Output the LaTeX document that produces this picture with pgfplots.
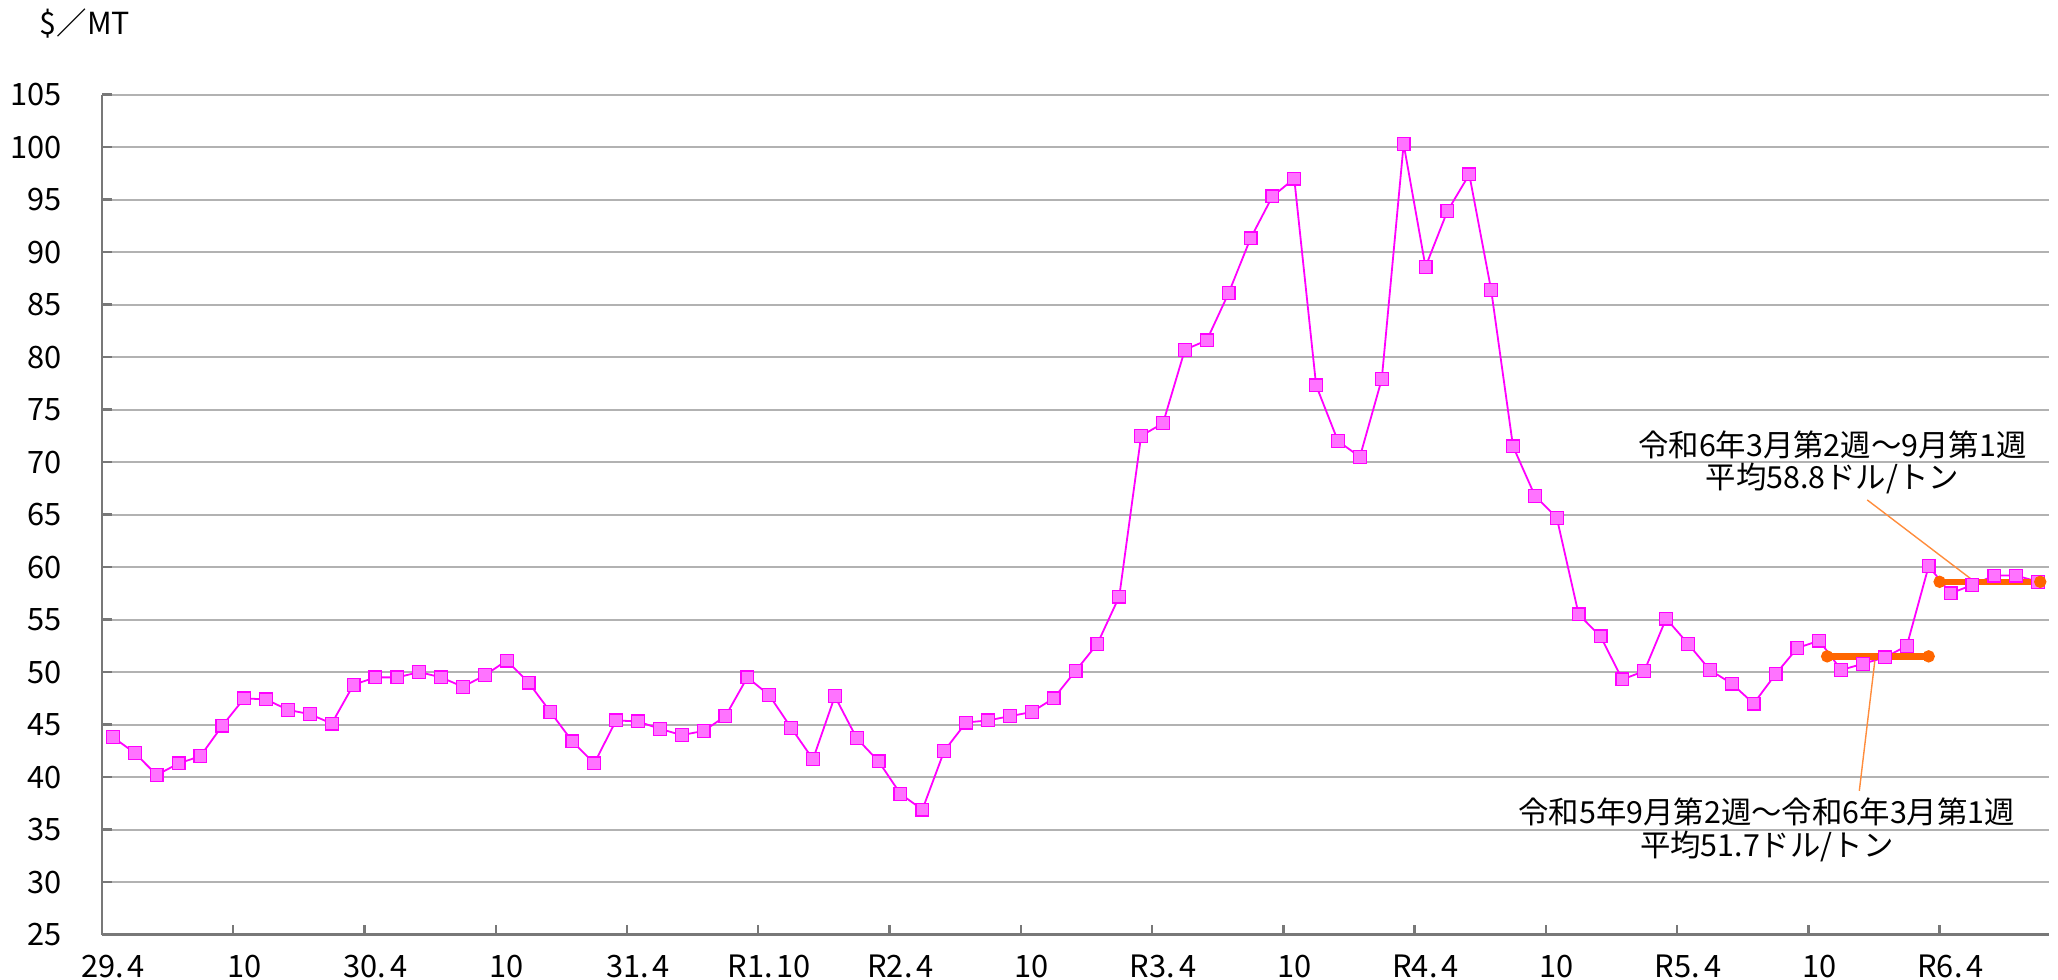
\documentclass[border=0pt]{standalone}
\usepackage{pgfplots}
\pgfplotsset{compat=1.18}
\usepackage{fontspec}
\newfontfamily\cjk{Noto Sans CJK JP}
\definecolor{mag}{RGB}{255,0,255}
\definecolor{magfill}{RGB}{255,115,255}
\definecolor{avg}{RGB}{255,102,0}
\definecolor{leader}{RGB}{255,140,60}
\definecolor{gridc}{RGB}{178,178,178}
\definecolor{axisc}{RGB}{120,120,120}
\begin{document}
\begin{tikzpicture}
\begin{axis}[
  at={(25.5pt,11.1pt)}, anchor=south west,
  width=486.75pt, height=210pt, scale only axis,
  xmin=-0.5, xmax=88.5, ymin=25, ymax=105,
  axis lines*=left,
  axis line style={axisc, line width=0.6pt},
  ytick={25,30,...,105},
  ymajorgrids, grid style={gridc, line width=0.5pt},
  xtick={-0.5,5.5,...,83.5},
  xticklabels={29.\kern1pt4,10,30.\kern1pt4,10,31.\kern1pt4,R1.\kern1pt10,R2.\kern1pt4,10,R3.\kern1pt4,10,R4.\kern1pt4,10,R5.\kern1pt4,10,R6.\kern1pt4},
  tick align=inside,
  major tick length=2.4pt,
  tick style={axisc, line width=0.6pt},
  ticklabel style={font=\cjk\fontsize{7.7}{8}\selectfont},
  /pgf/number format/assume math mode=true,
  xticklabel style={xshift=2.74pt, yshift=-1.5pt},
  yticklabel style={xshift=-6.5pt},
  clip=false,
]
\addplot[mag, line width=0.45pt, mark=square*, mark size=1.6pt,
  mark options={fill=magfill, draw=mag, line width=0.3pt}] coordinates {
(0,43.8)(1,42.3)(2,40.2)(3,41.3)(4,42.0)(5,44.9)(6,47.5)(7,47.4)(8,46.4)(9,46.0)
(10,45.1)(11,48.8)(12,49.5)(13,49.5)(14,50.0)(15,49.5)(16,48.6)(17,49.7)(18,51.1)(19,49.0)
(20,46.2)(21,43.4)(22,41.3)(23,45.4)(24,45.3)(25,44.6)(26,44.0)(27,44.4)(28,45.8)(29,49.5)
(30,47.8)(31,44.7)(32,41.7)(33,47.7)(34,43.7)(35,41.5)(36,38.4)(37,36.9)(38,42.5)(39,45.2)
(40,45.4)(41,45.8)(42,46.2)(43,47.5)(44,50.1)(45,52.7)(46,57.2)(47,72.5)(48,73.7)(49,80.7)
(50,81.6)(51,86.1)(52,91.3)(53,95.3)(54,97.0)(55,77.3)(56,72.0)(57,70.5)(58,77.9)(59,100.3)
(60,88.6)(61,93.9)(62,97.4)(63,86.4)(64,71.5)(65,66.8)(66,64.7)(67,55.5)(68,53.4)(69,49.3)
(70,50.1)(71,55.1)(72,52.7)(73,50.2)(74,48.9)(75,47.0)(76,49.8)(77,52.3)(78,53.0)(79,50.2)
(80,50.8)(81,51.4)(82,52.5)(83,60.1)(84,57.5)(85,58.3)(86,59.2)(87,59.2)(88,58.6)
};
% average lines
\addplot[avg, line width=1.6pt, mark=*, mark size=1.4pt, mark options={fill=avg, draw=avg, line width=0.3pt}]
  coordinates {(78.36,51.5)(83.0,51.5)};
\addplot[avg, line width=1.6pt, mark=*, mark size=1.4pt, mark options={fill=avg, draw=avg, line width=0.3pt}]
  coordinates {(83.5,58.6)(88.1,58.6)};
% leader lines
\addplot[leader, line width=0.35pt, no marks] coordinates {(80.19,66.4)(85.17,58.5)};
\addplot[leader, line width=0.35pt, no marks] coordinates {(79.83,38.7)(80.54,51.1)};
\node[font=\cjk\fontsize{7.6}{8}\selectfont] at (axis cs:78.6,71.6) {令和6年3月第2週～9月第1週};
\node[font=\cjk\fontsize{7.6}{8}\selectfont] at (axis cs:78.6,68.4) {平均58.8ドル/トン};
\node[font=\cjk\fontsize{7.6}{8}\selectfont] at (axis cs:75.6,36.7) {令和5年9月第2週～令和6年3月第1週};
\node[font=\cjk\fontsize{7.6}{8}\selectfont] at (axis cs:75.6,33.4) {平均51.7ドル/トン};
\end{axis}
\node[anchor=west, font=\cjk\fontsize{7.6}{8}\selectfont, inner sep=0pt] at (9.75pt,238.8pt) {\$／MT};
\pgfresetboundingbox
\path (0,0) rectangle (514.5pt,244.75pt);
\end{tikzpicture}
\end{document}
